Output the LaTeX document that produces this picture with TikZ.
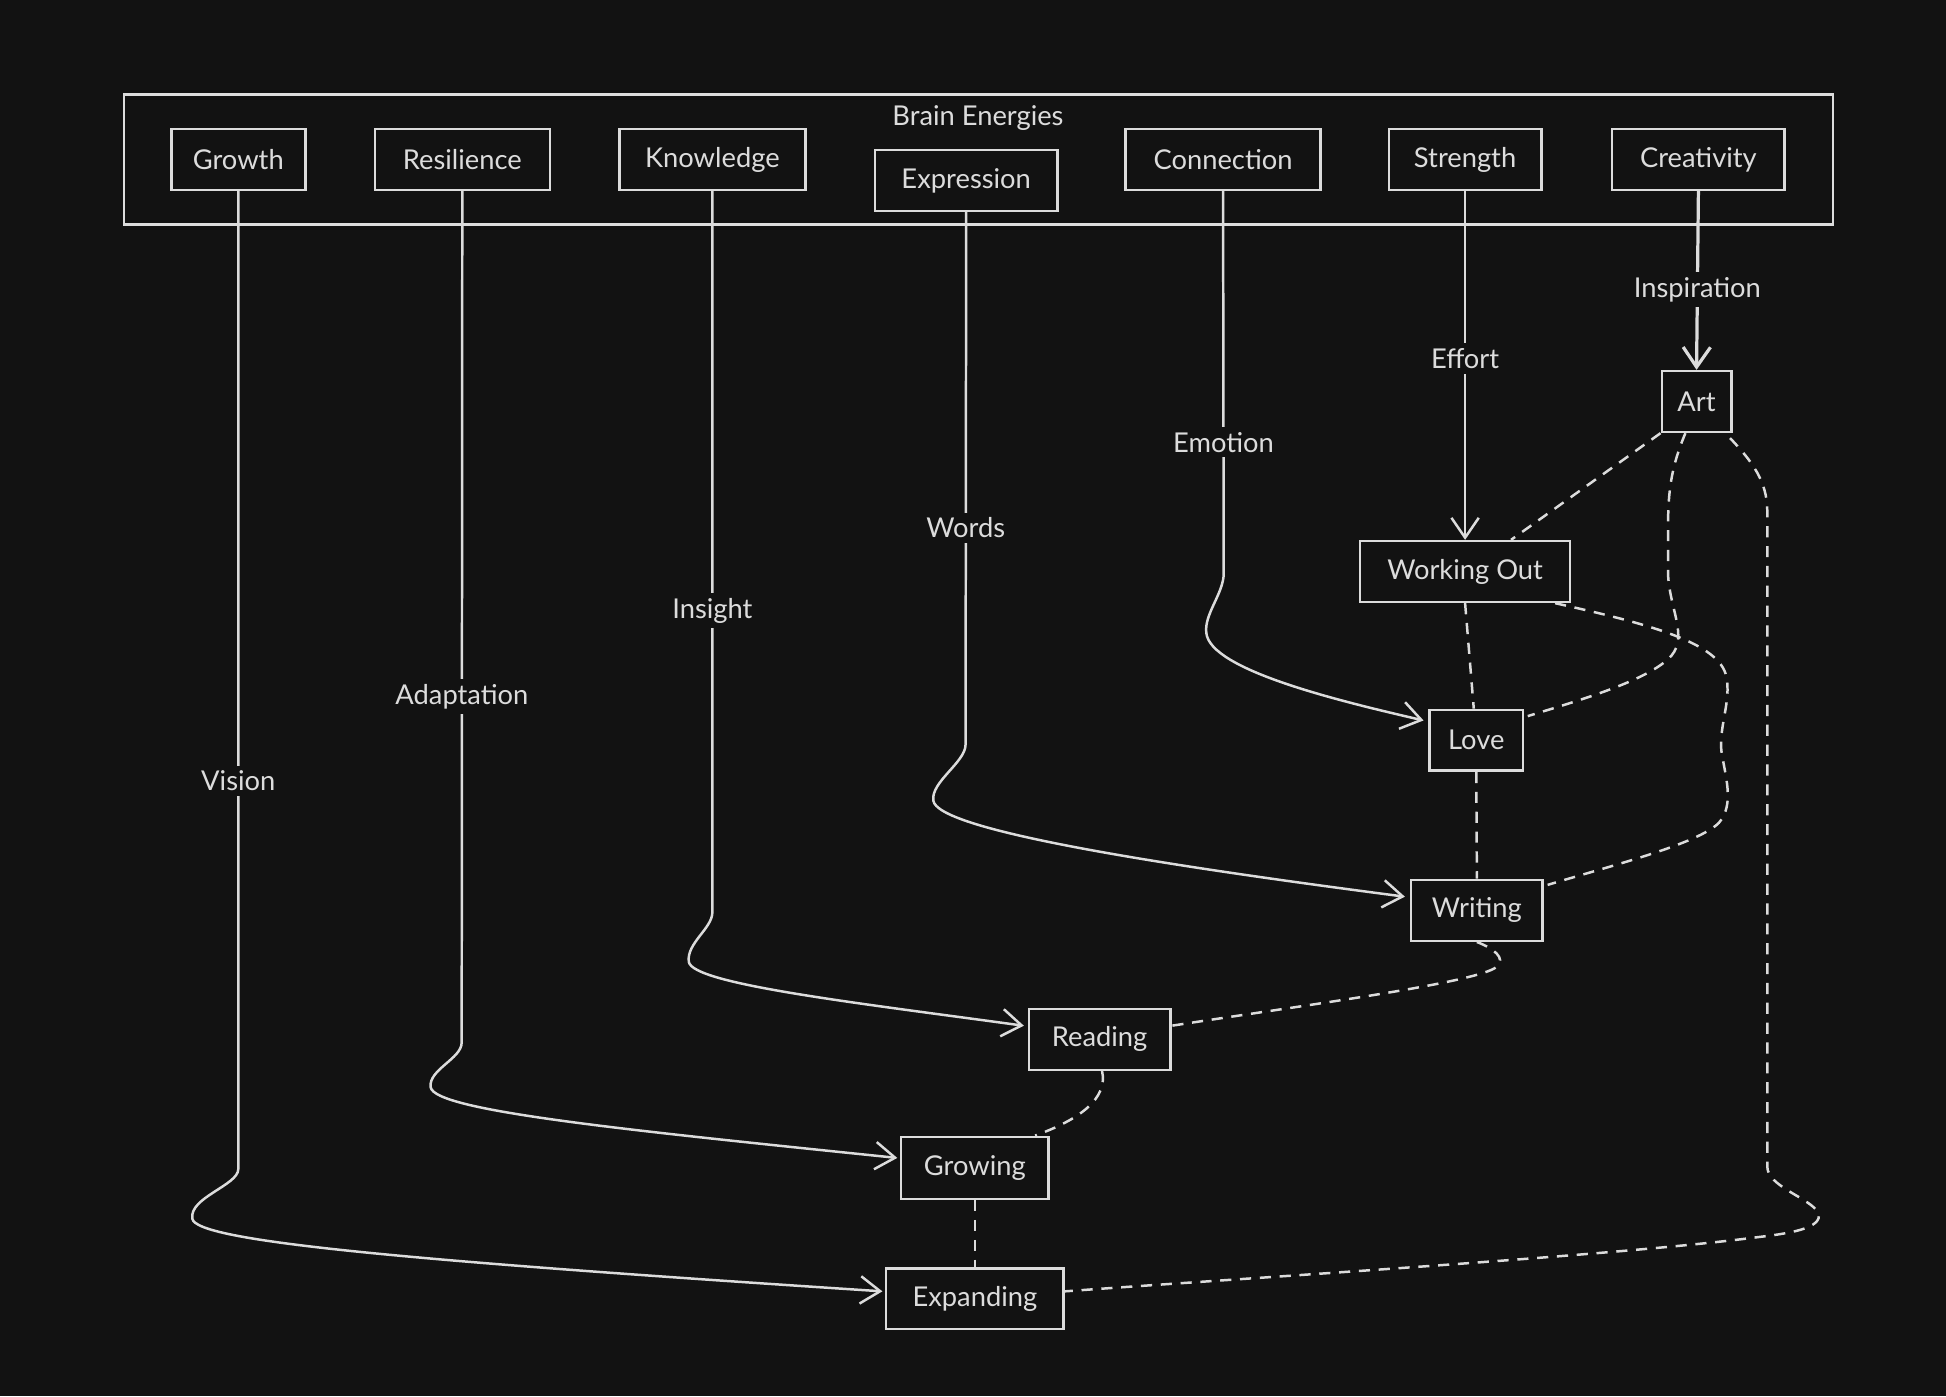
\documentclass[tikz,border=0pt]{standalone}
\usepackage{fontspec}
\setmainfont{Lato}
\usetikzlibrary{arrows.meta,calc}
\definecolor{bg}{HTML}{121212}
\definecolor{fg}{HTML}{DCDCDC}
\begin{document}
\begin{tikzpicture}[x=1pt,y=-1pt,
  box/.style={draw=fg,line width=2pt,fill=bg,text=fg,minimum height=49pt,inner sep=0pt,font=\fontsize{22}{26}\selectfont},
  group/.style={draw=fg,line width=2pt,minimum width=1377pt,minimum height=105pt,inner sep=0pt},
  lab/.style={fill=bg,text=fg,inner sep=4pt,font=\fontsize{22}{26}\selectfont},
  conn/.style={draw=fg,line width=2pt},
  arr/.style={conn,-{Straight Barb[length=16pt,width=22pt]}},
  dsh/.style={conn,dash pattern=on 9pt off 7pt},
]
\fill[bg] (0,0) rectangle (1568,1125);
\useasboundingbox (0,0) rectangle (1568,1125);

% group
\node[group] (brain) at (788.5,128.5) {};
\node[lab,fill=none] (braintitle) at (788,95) {Brain Energies};

% top boxes
\node[box,minimum width=108pt] (growth) at (192,128.5) {Growth};
\node[box,minimum width=141pt] (resilience) at (372.5,128.5) {Resilience};
\node[box,minimum width=150pt] (knowledge) at (574,128.5) {Knowledge};
\node[box,minimum width=147pt] (expression) at (778.5,145.5) {Expression};
\node[box,minimum width=157pt] (connection) at (985.5,128.5) {Connection};
\node[box,minimum width=123pt] (strength) at (1180.5,128.5) {Strength};
\node[box,minimum width=139pt] (creativity) at (1368.5,128.5) {Creativity};

% lower boxes
\node[box,minimum width=56pt] (art) at (1367,323.5) {Art};
\node[box,minimum width=169pt] (workingout) at (1180.5,460.5) {Working Out};
\node[box,minimum width=75pt] (love) at (1189.5,596.5) {Love};
\node[box,minimum width=106pt] (writing) at (1190,733.5) {Writing};
\node[box,minimum width=114pt] (reading) at (886,837.5) {Reading};
\node[box,minimum width=119pt,minimum height=50pt] (growing) at (785.5,941) {Growing};
\node[box,minimum width=143pt] (expanding) at (785.5,1046.5) {Expanding};

% solid arrows
\draw[arr] (growth.south) -- node[lab,pos=0.603]{Vision} (192,942)
  .. controls (192,955) and (152,965) .. (155,982)
  .. controls (158,1000) and (320,1015) .. ($(expanding.west)+(-2,-6)$);
\draw[arr] (resilience.south) -- node[lab,pos=0.594]{Adaptation} (372,840)
  .. controls (372,853) and (345,862) .. (347,876)
  .. controls (350,895) and (500,910) .. ($(growing.west)+(-2,-8)$);
\draw[arr] (knowledge.south) -- node[lab,pos=0.582]{Insight} (574,735)
  .. controls (574,748) and (553,760) .. (555,775)
  .. controls (558,793) and (690,808) .. ($(reading.west)+(-3,-11)$);
\draw[arr] (expression.south) -- node[lab,pos=0.593]{Words} (778,600)
  .. controls (778,614) and (750,630) .. (752,645)
  .. controls (755,668) and (920,695) .. ($(writing.west)+(-4,-11)$);
\draw[arr] (connection.south) -- node[lab,pos=0.657]{Emotion} (986,462)
  .. controls (986,478) and (970,495) .. (972,510)
  .. controls (975,540) and (1080,565) .. ($(love.west)+(-4,-16)$);
\draw[arr] (strength.south) -- node[lab,pos=0.48]{Effort} (workingout.north);
\draw[arr,line width=2.6pt] (creativity.south) -- node[lab,pos=0.55]{Inspiration} (art.north);

% dashed links
\draw[dsh] (art.south west) -- ($(workingout.north)+(37,0)$);
\draw[dsh] (workingout.south) -- ($(love.north)+(-2,0)$);
\draw[dsh] ($(art.south)+(-9,0)$) .. controls (1345,380) and (1344,400) .. (1344,430)
  -- (1344,462) .. controls (1345,490) and (1360,512) .. (1347,528)
  .. controls (1330,548) and (1270,565) .. ($(love.north east)+(3,6)$);
\draw[dsh] ($(workingout.south east)+(-13,0)$) .. controls (1330,503) and (1385,518) .. (1391,545)
  .. controls (1395,565) and (1385,585) .. (1387,605)
  .. controls (1390,625) and (1398,648) .. (1385,663)
  .. controls (1368,680) and (1300,697) .. ($(writing.north east)+(3,5)$);
\draw[dsh] (love.south) -- (writing.north);
\draw[dsh] (writing.south) .. controls (1203,764) and (1214,772) .. (1206,779)
  .. controls (1190,792) and (1050,810) .. ($(reading.east)+(0,-11)$);
\draw[dsh] ($(reading.south)+(2,0)$) .. controls (893,885) and (870,902) .. ($(growing.north east)+(-12,0)$);
\draw[dsh] (growing.south) -- (expanding.north);
\draw[dsh] ($(art.south east)+(-2,4)$) .. controls (1412,372) and (1424,388) .. (1424,412)
  -- (1424,940) .. controls (1424,956) and (1458,965) .. (1465,977)
  .. controls (1470,990) and (1440,994) .. (1415,997)
  .. controls (1300,1012) and (1000,1030) .. ($(expanding.east)+(0,-6)$);
\end{tikzpicture}
\end{document}
